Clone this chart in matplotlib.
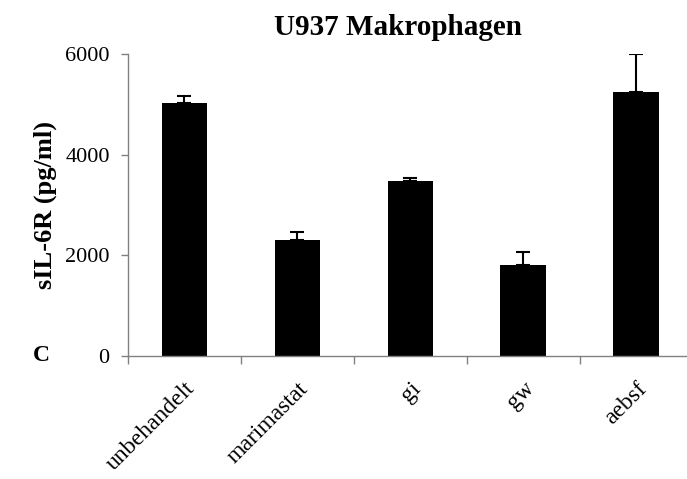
import matplotlib.pyplot as plt
import numpy as np

categories = ["unbehandelt", "marimastat", "gi", "gw", "aebsf"]
values = [5020, 2300, 3480, 1800, 5250]
errors = [150, 160, 50, 260, 750]

plt.rcParams['font.family'] = ['Liberation Serif', 'DejaVu Serif']

fig = plt.figure(figsize=(6.87, 4.79), dpi=100)
ax = fig.add_axes([0.186, 0.257, 0.822, 0.630])

x = np.arange(len(categories))
ax.bar(x, values, width=0.4, color='black')
ax.errorbar(x, values, yerr=[np.zeros(len(errors)), errors], fmt='none',
            ecolor='black', elinewidth=1.5, capsize=5, capthick=1.5)

ax.set_xlim(-0.5, len(categories) - 0.5)
ax.set_ylim(0, 6000)
ax.set_yticks([0, 2000, 4000, 6000])
ax.set_yticklabels(['0', '2000', '4000', '6000'], fontsize=16)

ax.set_xticks(x)
ax.set_xticklabels(categories, rotation=45, ha='right', rotation_mode='anchor', fontsize=17)
ax.tick_params(axis='x', length=0, pad=16)
ax.set_xticks(np.arange(-0.5, len(categories)), minor=True)
ax.tick_params(axis='x', which='minor', length=6, color='#808080', width=1)
ax.tick_params(axis='y', length=5, color='#808080', width=1, pad=8)

for s in ['top', 'right']:
    ax.spines[s].set_visible(False)
for s in ['left', 'bottom']:
    ax.spines[s].set_color('#808080')
    ax.spines[s].set_linewidth(1)

ax.set_ylabel("sIL-6R (pg/ml)", fontsize=19, fontweight='bold', labelpad=6)
fig.text(0.58, 0.942, "U937 Makrophagen", fontsize=21, fontweight='bold', ha='center', va='center')
fig.text(0.06, 0.257, "C", fontsize=17, fontweight='bold', ha='center', va='center')

fig.savefig("out.png", dpi=100)
